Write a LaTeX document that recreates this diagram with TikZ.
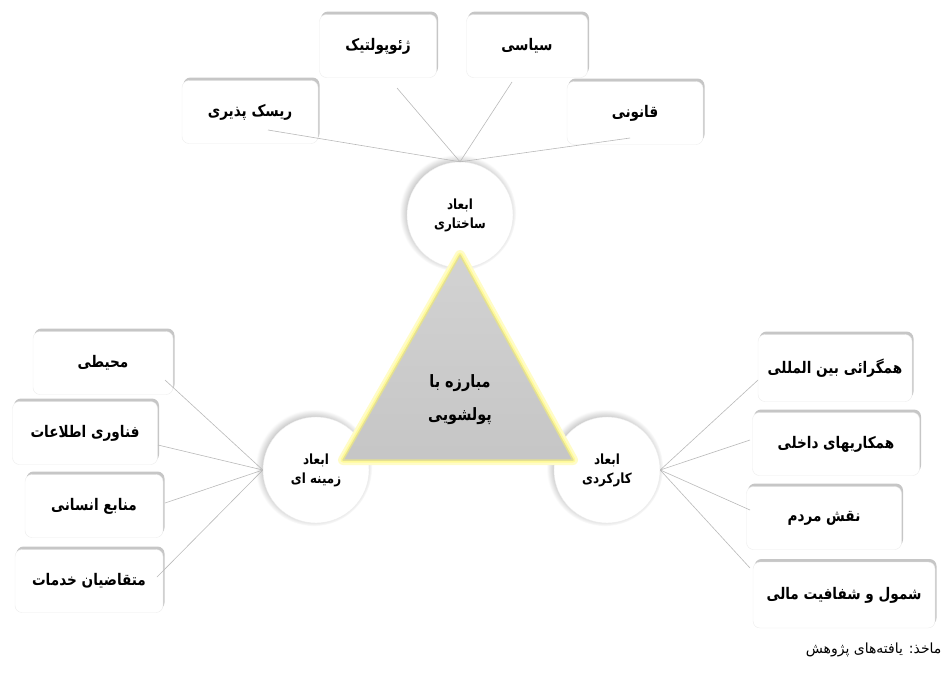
\documentclass[tikz,border=0pt]{standalone}
\usepackage{fontspec}
\usetikzlibrary{shadows,positioning}
\newfontfamily\fa[Script=Arabic,FakeStretch=0.85]{DejaVu Sans}
\newfontfamily\facap[Script=Arabic]{DejaVu Sans}
\TeXXeTstate=1
\newcommand{\rl}[1]{\beginR #1\endR}

\tikzset{
  leaf/.style={draw=gray!15, fill=white, rounded corners=7pt,
    minimum height=63pt, inner sep=2pt,
    font=\fa\bfseries\fontsize{16}{18}\selectfont,
    drop shadow={shadow xshift=1.5pt, shadow yshift=3pt, opacity=.45, fill=gray}},
  dim/.style={circle, draw=gray!15, fill=white, minimum size=106pt,
    inner sep=0pt, align=center,
    font=\fa\bfseries\fontsize{14}{19}\selectfont,
    circular drop shadow={shadow xshift=-2pt, shadow yshift=2pt, opacity=.45, fill=gray}},
  link/.style={gray!55, line width=.6pt},
}

\begin{document}
\begin{tikzpicture}[x=1pt,y=-1pt]
    \useasboundingbox (0,0) rectangle (949,673);

    % three dimensions
    \node[dim] (sakhtari) at (460,215) {\rl{ابعاد}\\\rl{ساختاری}};
    \node[dim] (zamine) at (316,470) {\rl{ابعاد}\\\rl{زمینه ای}};
    \node[dim] (karkard) at (607,470) {\rl{ابعاد}\\\rl{کارکردی}};

    % the triangle
    \coordinate (A) at (460,255);
    \coordinate (B) at (343,460);
    \coordinate (C) at (573,460);
    \draw[line width=10pt, yellow!22, line join=round] (A)--(B)--(C)--cycle;
    \draw[line width=5pt, yellow!40, line join=round] (A)--(B)--(C)--cycle;
    \draw[line width=1.5pt, yellow!60!gray!60, line join=round, top color=gray!35, bottom color=gray!45] (A)--(B)--(C)--cycle;
    \node[font=\fa\bfseries\fontsize{17}{33}\selectfont, align=center] (mobareze) at (460,400) {\rl{مبارزه با}\\\rl{پولشویی}};

    % structural
    \node[leaf, minimum width=136pt] (risk) at (250,112) {\rl{ریسک پذیری}};
    \node[leaf, minimum width=117pt] (geo) at (378,46) {\rl{ژئوپولتیک}};
    \node[leaf, minimum width=121pt] (siasi) at (527,46) {\rl{سیاسی}};
    \node[leaf, minimum width=136pt] (ghanooni) at (635,113) {\rl{قانونی}};

    % contextual
    \node[leaf, minimum width=140pt] (mohiti) at (103,363) {\rl{محیطی}};
    \node[leaf, minimum width=145pt] (fanavari) at (85,433) {\rl{فناوری اطلاعات}};
    \node[leaf, minimum width=138pt] (manabe) at (94,506) {\rl{منابع انسانی}};
    \node[leaf, minimum width=148pt] (motaghazi) at (89,581) {\rl{متقاضیان خدمات}};

    % functional
    \node[leaf, minimum width=154pt, minimum height=67pt] (hamgarai) at (835,368) {\rl{همگرائی بین المللی}};
    \node[leaf, minimum width=167pt] (hamkari) at (836,444) {\rl{همکاریهای داخلی}};
    \node[leaf, minimum width=155pt] (naghsh) at (824,518) {\rl{نقش مردم}};
    \node[leaf, minimum width=182pt, minimum height=66pt] (shomool) at (844,595) {\rl{شمول و شفافیت مالی}};

    \draw[link] ([shift={(18,18)}]risk.center) -- (sakhtari.north);
    \draw[link] ([shift={(19,42)}]geo.center) -- (sakhtari.north);
    \draw[link] ([shift={(-15,36)}]siasi.center) -- (sakhtari.north);
    \draw[link] ([shift={(-5,25)}]ghanooni.center) -- (sakhtari.north);

    \draw[link] ([shift={(62,17)}]mohiti.center) -- (zamine.west);
    \draw[link] ([shift={(73,12)}]fanavari.center) -- (zamine.west);
    \draw[link] ([shift={(71,-3)}]manabe.center) -- (zamine.west);
    \draw[link] ([shift={(68,-4)}]motaghazi.center) -- (zamine.west);

    \draw[link] ([shift={(-77,12)}]hamgarai.center) -- (karkard.east);
    \draw[link] ([shift={(-86,-4)}]hamkari.center) -- (karkard.east);
    \draw[link] ([shift={(-74,-8)}]naghsh.center) -- (karkard.east);
    \draw[link] ([shift={(-94,-27)}]shomool.center) -- (karkard.east);

    \node[anchor=east, font=\facap\fontsize{14}{16}\selectfont] (source) at (945,650) {\rl{ماخذ: یافته‌های پژوهش}};
\end{tikzpicture}
\end{document}
